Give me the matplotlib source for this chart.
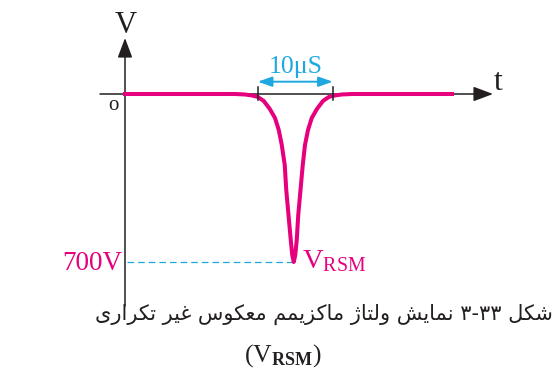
import matplotlib
matplotlib.use("Agg")
import matplotlib.pyplot as plt

plt.rcParams['mathtext.fontset'] = 'custom'
plt.rcParams['mathtext.rm'] = 'Liberation Serif'
plt.rcParams['mathtext.it'] = 'Liberation Serif:italic'
plt.rcParams['mathtext.bf'] = 'Liberation Serif:bold'

# reverse-voltage spike, time in microseconds, voltage in volts
t_us = [0, 14.7, 16.0, 16.9, 17.7, 18.5, 19.3, 20.0, 20.5, 20.9, 21.3, 21.5, 21.8, 22.1, 22.3,
        22.5,
        22.7, 22.9, 23.1, 23.4, 23.7, 24.0, 24.4, 24.9, 25.6, 26.4, 27.2, 28.0, 28.9, 30.3, 43.6]
v_volts = [0, 0, -2, -6, -12, -29, -62, -100, -150, -212, -296, -400, -504, -608, -671,
           -700,
           -671, -608, -504, -400, -296, -212, -150, -100, -62, -29, -12, -6, -2, 0, 0]

v_rsm = -700
v_rsm_label = "700V"
width_start = 17.7
width_us = 10
width_label = "10μS"

caption = "شکل ۳-۳۳ نمایش ولتاژ ماکزیمم معکوس غیر تکراری"

PINK = "#E6007E"
CYAN = "#1FA8E0"
INK = "#231F20"
SERIF = "Liberation Serif"

W, H = 557, 371
X0, Y0 = 125, 94          # origin in pixels
PX_US, PX_V = 7.5, 0.24   # pixels per microsecond / per volt


def tx(px):
    return (px - X0) / PX_US


def vy(py):
    return (Y0 - py) / PX_V


def fp(px, py):
    return px / W, 1 - py / H


# contextual forms: (isolated, final, initial, medial); two-form letters only join to the right
FORMS = {
    "ش": "\uFEB5\uFEB6\uFEB7\uFEB8", "ک": "\uFB8E\uFB8F\uFB90\uFB91",
    "ل": "\uFEDD\uFEDE\uFEDF\uFEE0", "ن": "\uFEE5\uFEE6\uFEE7\uFEE8",
    "م": "\uFEE1\uFEE2\uFEE3\uFEE4", "ی": "\uFBFC\uFBFD\uFBFE\uFBFF",
    "ت": "\uFE95\uFE96\uFE97\uFE98", "ع": "\uFEC9\uFECA\uFECB\uFECC",
    "س": "\uFEB1\uFEB2\uFEB3\uFEB4", "غ": "\uFECD\uFECE\uFECF\uFED0",
    "ا": "\uFE8D\uFE8E", "و": "\uFEED\uFEEE", "ژ": "\uFB8A\uFB8B",
    "ز": "\uFEAF\uFEB0", "ر": "\uFEAD\uFEAE",
}


def shape_word(word):
    out = []
    for i, ch in enumerate(word):
        forms = FORMS.get(ch)
        if forms is None:
            out.append(ch)
            continue
        prev = word[i - 1] if i > 0 else None
        nxt = word[i + 1] if i + 1 < len(word) else None
        join_prev = prev in FORMS and len(FORMS[prev]) == 4
        join_next = len(forms) == 4 and nxt in FORMS
        if join_prev and join_next:
            out.append(forms[3])
        elif join_prev:
            out.append(forms[1])
        elif join_next:
            out.append(forms[2])
        else:
            out.append(forms[0])
    if any(c in FORMS for c in word):
        return "".join(reversed(out))
    return "".join(out)


def visual_rtl(text):
    return " ".join(shape_word(w) for w in reversed(text.split()))


fig = plt.figure(figsize=(W / 100, H / 100), dpi=100)
ax = fig.add_axes([0, 0, 1, 1])
ax.set_xlim(tx(0), tx(W))
ax.set_ylim(vy(H), vy(0))
ax.axis('off')

# axes with arrowheads
axis_arrow = dict(arrowstyle='-|>,head_length=1.2,head_width=0.45', mutation_scale=10,
                  lw=1.1, color=INK, shrinkA=0, shrinkB=0)
ax.annotate('', xy=(tx(493), 0), xytext=(tx(100), 0), arrowprops=axis_arrow)
ax.annotate('', xy=(0, vy(38)), xytext=(0, vy(306)), arrowprops=axis_arrow)

# 700V reference
ax.plot([tx(127), t_us[v_volts.index(v_rsm)]], [v_rsm, v_rsm], color=CYAN, lw=0.9,
        dashes=(5.3, 3.2))

# the spike
ax.plot(t_us, v_volts, color=PINK, lw=2.9, solid_joinstyle='round', zorder=3)

# pulse width marker
for t in (width_start, width_start + width_us):
    ax.plot([t, t], [vy(87), vy(100)], color=INK, lw=1.1, zorder=4)
ax.annotate('', xy=(width_start + width_us, vy(81.7)), xytext=(width_start, vy(81.7)),
            arrowprops=dict(arrowstyle='<|-|>,head_length=0.85,head_width=0.3',
                            mutation_scale=10, lw=1.4, color=CYAN, shrinkA=0, shrinkB=0))
ax.text(width_start + width_us / 2 + 0.1, vy(73.5), width_label, color=CYAN, fontsize=18.5,
        family=SERIF, ha='center', va='baseline')

ax.text(tx(122), vy(270), v_rsm_label, color=PINK, fontsize=19.5, family=SERIF,
        ha='right', va='baseline')
ax.text(tx(302), vy(268), r'$\mathrm{V}_{\mathrm{RSM}}$', color=PINK, fontsize=20.5,
        ha='left', va='baseline')

# axis labels
fig.text(*fp(126, 33), "V", fontsize=22, family=SERIF, color=INK, ha='center', va='baseline')
fig.text(*fp(498, 90), "t", fontsize=23, family=SERIF, color=INK, ha='center', va='baseline')
fig.text(*fp(113, 106), "o", fontsize=15, family=SERIF, color=INK, ha='center', va='center')

# caption
fig.text(*fp(553, 320), visual_rtl(caption), fontsize=15, family='DejaVu Sans', color=INK,
         ha='right', va='baseline')
fig.text(*fp(283, 362), r'$(\mathrm{V}_{\mathbf{RSM}})$', fontsize=18.5, color=INK,
         ha='center', va='baseline')

fig.savefig("out.png", dpi=100)
